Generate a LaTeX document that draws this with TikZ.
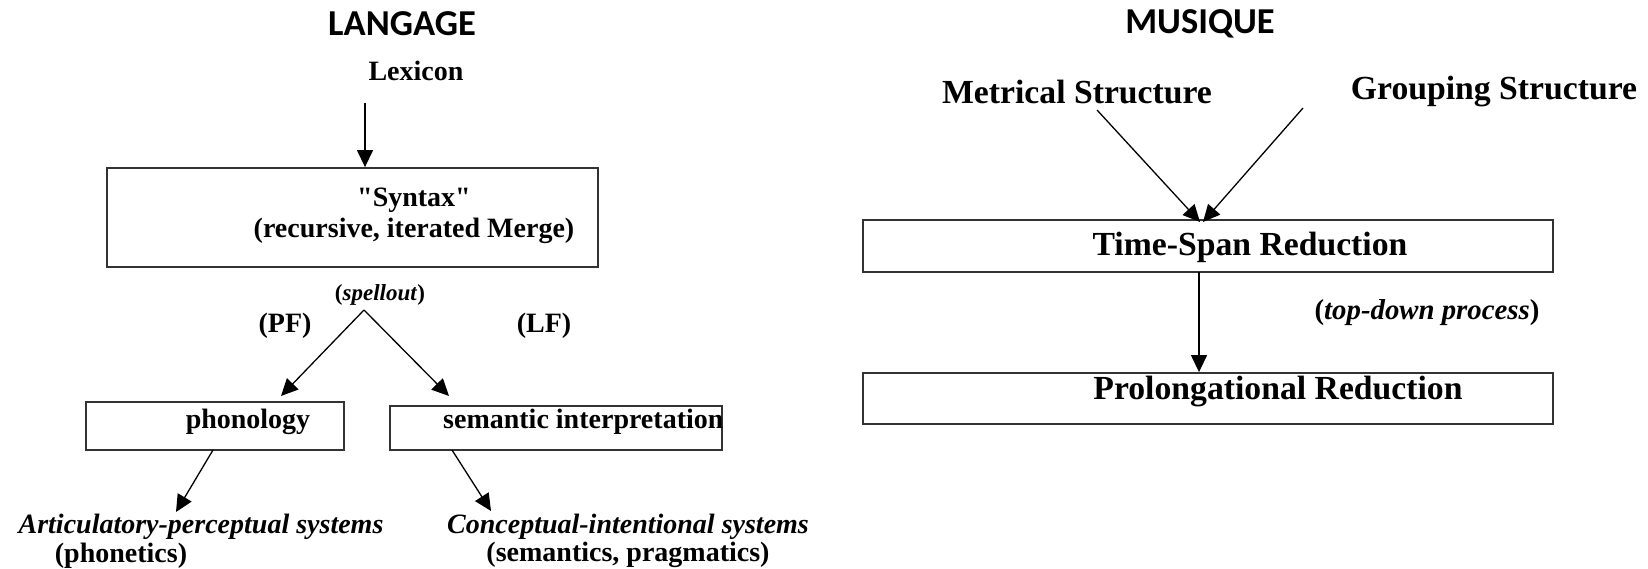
\documentclass[tikz,border=0pt]{standalone}
\usepackage{fontspec}
\setmainfont{Liberation Serif}
\setmonofont{Liberation Serif}
\newfontfamily\headfont{Carlito}
\usetikzlibrary{arrows.meta}
\begin{document}
\begin{tikzpicture}[x=1pt,y=-1pt,
  lbl/.style={font=\fontsize{28}{32}\selectfont\bfseries, inner sep=0pt},
  ilbl/.style={font=\fontsize{28}{32}\selectfont\bfseries\itshape, inner sep=0pt},
  slbl/.style={font=\fontsize{23}{26}\selectfont\bfseries, inner sep=0pt},
  rlbl/.style={font=\fontsize{33.7}{38}\selectfont\bfseries, inner sep=0pt},
  tlbl/.style={font=\fontsize{28.8}{32}\selectfont\bfseries, inner sep=0pt},
  head/.style={font=\headfont\fontsize{36.5}{40}\selectfont\bfseries, inner sep=0pt},
  box/.style={draw=black!80, line width=1.8pt, inner sep=0pt},
  arr/.style={-{Triangle[length=17pt,width=16pt]}, line width=1.3pt},
]
\useasboundingbox (0,0) rectangle (1648,569);

% ---------- LANGAGE ----------
\node[head] (langage) at (402,24) {LANGAGE};
\node[lbl] (lex) at (416,71) {Lexicon};
\node[box, minimum width=491pt, minimum height=99pt] (syntax) at (352.5,217.5) {};
\node[lbl] (syn1) at (414,200) {\ttfamily\bfseries "Syntax"};
\node[lbl] (syn2) at (414,231) {(recursive, iterated Merge)};
\coordinate (lexout) at (365,103);
\draw[arr] (lexout) -- (lexout |- syntax.north);

\node[slbl] (spell) at (380,295) {(\textit{spellout})};
\coordinate (apex) at (364,310);
\node[lbl] (pf) at (285,326) {(PF)};
\node[lbl] (lf) at (544,326) {(LF)};

\node[box, minimum width=258pt, minimum height=48pt] (phon) at (215,426) {};
\node[lbl] (phontxt) at (248,422) {phonology};
\node[box, minimum width=332pt, minimum height=44pt] (sem) at (556,428) {};
\node[lbl, anchor=west] (semtxt) at (443,422) {semantic interpretation};

\coordinate (phonin) at (281,396);
\coordinate (semin) at (449,396);
\draw[arr] (apex) -- (phonin);
\draw[arr] (apex) -- (semin);

\coordinate (phonout) at (213,450);
\coordinate (artin) at (176,512);
\coordinate (semout) at (452,450);
\coordinate (conin) at (491,511);
\draw[arr] (phonout) -- (artin);
\draw[arr] (semout) -- (conin);

\node[ilbl] (art) at (201,527) {Articulatory-perceptual systems};
\node[lbl] (phonetics) at (121,556) {(phonetics)};
\node[ilbl] (concept) at (628,527) {Conceptual-intentional systems};
\node[lbl] (sempr) at (628,555) {(semantics, pragmatics)};

% ---------- MUSIQUE ----------
\node[head] (musique) at (1200,24) {MUSIQUE};
\node[rlbl] (metr) at (1077,92) {Metrical Structure};
\node[rlbl] (group) at (1494,92) {Grouping Structure};
\node[box, minimum width=690pt, minimum height=52pt] (tsr) at (1208,246) {};
\node[rlbl] (tsrtxt) at (1250,247) {Time-Span Reduction};
\coordinate (metrout) at (1097,110);
\coordinate (groupout) at (1303,108);
\coordinate (tsrin1) at (1200,222);
\coordinate (tsrin2) at (1203,222);
\draw[arr] (metrout) -- (tsrin1);
\draw[arr] (groupout) -- (tsrin2);

\node[box, minimum width=690pt, minimum height=51pt] (pr) at (1208,398.5) {};
\node[rlbl] (prtxt) at (1278,392) {Prolongational Reduction};
\coordinate (tsrout) at (1199,272);
\draw[arr] (tsrout) -- (tsrout |- pr.north);
\node[tlbl] (topdown) at (1427,313) {(\textit{top-down process})};
\end{tikzpicture}
\end{document}
